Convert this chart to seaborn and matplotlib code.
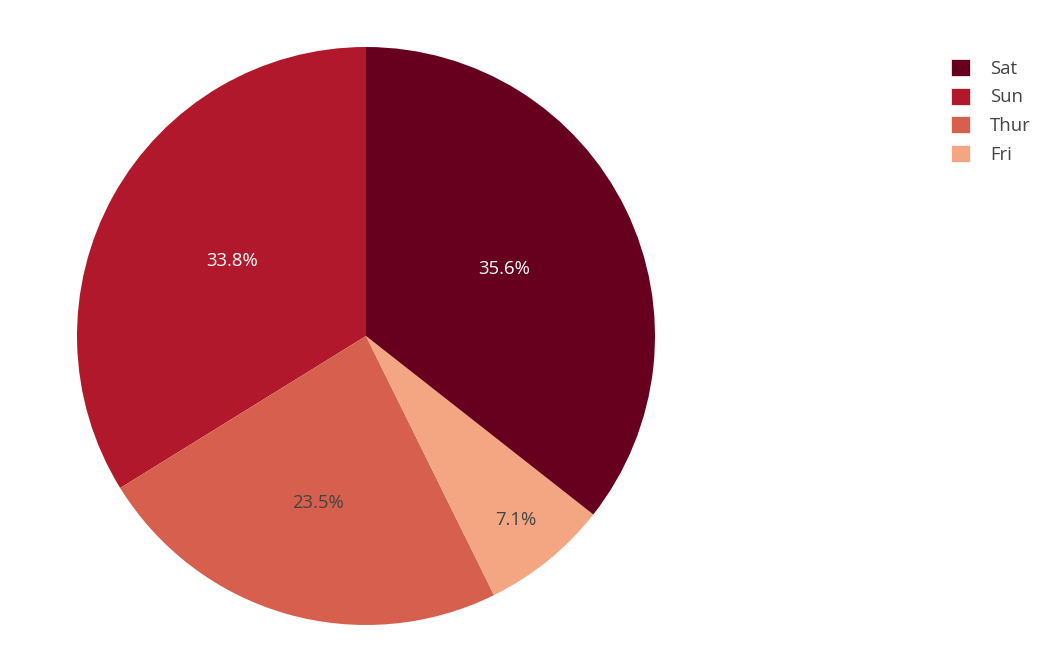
import matplotlib
matplotlib.use("Agg")
import matplotlib.pyplot as plt
import seaborn as sns
import numpy as np
from matplotlib.patches import Patch

sns.set_theme(style="white")
plt.rcParams['font.family'] = ['Open Sans', 'DejaVu Sans']

# Data (tips by day)
days = ["Sat", "Sun", "Thur", "Fri"]
tips = [260.40, 247.39, 171.83, 51.96]
colors = ["#67001f", "#b2182b", "#d6604d", "#f4a582"]
text_colors = ["white", "white", "#444444", "#444444"]
label_radius = [0.53, 0.53, 0.60, 0.82]

# Drawing order counterclockwise from 12 o'clock: Sun, Thur, Fri, Sat
draw_order = [1, 2, 3, 0]

fig = plt.figure(figsize=(10.53, 6.52), dpi=100)
ax = fig.add_axes([77/1053, 27/652, 578/1053, 578/652])

vals = [tips[i] for i in draw_order]
cols = [colors[i] for i in draw_order]
wedges, _ = ax.pie(vals, colors=cols, startangle=90, counterclock=True,
                   wedgeprops=dict(linewidth=0))
total = sum(tips)
for w, i in zip(wedges, draw_order):
    mid = np.deg2rad((w.theta1 + w.theta2) / 2)
    r = label_radius[i]
    t = ax.text(r*np.cos(mid), r*np.sin(mid), f"{tips[i]/total*100:.1f}%",
                ha="center", va="center", fontsize=13.3, color=text_colors[i])
ax.set_xlim(-1, 1)
ax.set_ylim(-1, 1)
ax.set_aspect("equal")
ax.axis("off")

handles = [Patch(facecolor=c, edgecolor="white", linewidth=0.5) for c in colors]
leg = fig.legend(handles, days, loc="upper left",
                 bbox_to_anchor=(951/1053, 1 - 59/652),
                 frameon=False, fontsize=13.3, handlelength=1.03, handleheight=1.03,
                 handletextpad=1.1, labelspacing=0.54, borderaxespad=0, borderpad=0)
for t in leg.get_texts():
    t.set_color("#444444")

fig.savefig("out.png", dpi=100, facecolor="white")
